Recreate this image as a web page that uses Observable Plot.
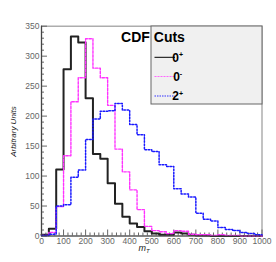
<!DOCTYPE html>
<html><head><meta charset="utf-8">
<script src="https://cdn.jsdelivr.net/npm/d3@7"></script>
<script src="https://cdn.jsdelivr.net/npm/@observablehq/plot@0.6"></script>
<style>body{margin:0;background:#fff}svg{display:block}</style>
</head><body><div id="chart"></div>
<script>
// Histogram: 30 bins over m_T in [0, 1000]
const xMin = 0, xMax = 1000;
const hist0plus  = [2, 12, 111, 278, 333, 323, 230, 137, 129, 88, 54, 32, 21, 15, 8, 4, 2, 2, 6, 4, 2, 1, 1, 0, 0, 0, 0, 0, 0, 0];
const hist0minus = [1, 6, 49, 134, 224, 264, 329, 280, 264, 218, 145, 107, 77, 44, 16, 9, 7, 4, 9, 8, 3, 2, 2, 1, 2, 1, 1, 0, 0, 0];
const hist2plus  = [1, 3, 50, 52, 98, 110, 161, 195, 208, 209, 221, 210, 186, 169, 144, 141, 119, 116, 79, 70, 65, 38, 28, 25, 14, 11, 9, 6, 4, 2];
const seriesLabels = ["0", "0", "2"];
const seriesSups = ["+", "-", "+"];
const legendTitle = "CDF Cuts";
const xTicks = [0, 100, 200, 300, 400, 500, 600, 700, 800, 900, 1000];
const yTicks = [0, 50, 100, 150, 200, 250, 300, 350];
const xMinorStep = 20, yMinorStep = 10;
const xTitle = "m", xTitleSub = "T";
const yTitle = "Arbitrary Units";

function steps(values) {
  const w = (xMax - xMin) / values.length;
  const pts = values.map((v, i) => ({x: xMin + i * w, y: v}));
  pts.push({x: xMax, y: values[values.length - 1]});
  return pts;
}
const xMinor = d3.range(xMin, xMax + 1e-9, xMinorStep).filter(v => !xTicks.includes(v));
const yMinor = d3.range(0, 350 + 1e-9, yMinorStep).filter(v => !yTicks.includes(v));

const W = 276, H = 262, mL = 41, mR = 14.5, mT = 25.7, mB = 26.5;
const fw = W - mL - mR, fh = H - mT - mB;

const styles = [
  {stroke: "#222", strokeWidth: 2},
  {stroke: "#ff33ff", strokeWidth: 1.4, strokeDasharray: "2.5,1.5"},
  {stroke: "#1a1aff", strokeWidth: 1.5, strokeDasharray: "1.6,1.6"}
];
const hists = [hist0plus, hist0minus, hist2plus];

const plot = Plot.plot({
  width: W, height: H,
  marginLeft: mL, marginRight: mR, marginTop: mT, marginBottom: mB,
  x: {domain: [xMin, xMax], label: null},
  y: {domain: [0, 350], label: null},
  style: {fontFamily: "'Liberation Sans', Arial, sans-serif", fontSize: "8.5px", color: "#666", background: "#fff"},
  marks: [
    Plot.frame({stroke: "#999", strokeWidth: 1.2}),
    Plot.tickY(yMinor, {y: d => d, insetRight: fw - 3, stroke: "#666"}),
    Plot.tickY(yTicks, {y: d => d, insetRight: fw - 6, stroke: "#666"}),
    Plot.tickX(xMinor, {x: d => d, insetTop: fh - 3, stroke: "#666"}),
    Plot.tickX(xTicks, {x: d => d, insetTop: fh - 6, stroke: "#666"}),
    Plot.axisY(yTicks, {tickSize: 0, tickPadding: 2, label: null, fill: "#666", tickFormat: d => String(d)}),
    Plot.axisX(xTicks, {tickSize: 0, tickPadding: 2, label: null, fill: "#666", tickFormat: d => String(d)}),
    ...hists.map((h, i) => Plot.lineY(steps(h), {x: "x", y: "y", curve: "step-after", ...styles[i]})),
    Plot.ruleX([xMin], {stroke: "#444", strokeWidth: 1.2}),
    Plot.ruleY([0], {stroke: "#444", strokeWidth: 1.2})
  ]
});
document.getElementById("chart").append(plot);

const svg = d3.select(plot);
// axis titles
svg.append("text")
  .attr("transform", "translate(16.3,131.5) rotate(-90)")
  .attr("text-anchor", "middle")
  .attr("font-style", "italic").attr("font-size", 8).attr("fill", "#222")
  .attr("font-family", "'Liberation Sans', Arial, sans-serif")
  .text(yTitle);
const xt = svg.append("text")
  .attr("x", 144).attr("y", 251)
  .attr("font-style", "italic").attr("font-size", 9).attr("fill", "#222")
  .attr("font-family", "'Liberation Sans', Arial, sans-serif");
xt.append("tspan").text(xTitle);
xt.append("tspan").attr("font-size", 6).attr("dy", 2.2).text(xTitleSub);

// legend
const lg = svg.append("g").attr("font-family", "'Liberation Sans', Arial, sans-serif");
lg.append("rect").attr("x", 151).attr("y", 26).attr("width", 111).attr("height", 78)
  .attr("fill", "#f0f0f0").attr("stroke", "#666").attr("stroke-width", 1);
lg.append("text").attr("x", 153).attr("y", 41.5).attr("font-weight", "bold").attr("font-size", 14)
  .attr("fill", "#000").text(legendTitle);
const rowY = [57.3, 76.5, 96];
const legStyles = [
  {stroke: "#000", w: 1, dash: null},
  {stroke: "#ff66ff", w: 1, dash: "2,1"},
  {stroke: "#3333ff", w: 1, dash: "1.5,1"}
];
seriesLabels.forEach((lab, i) => {
  const y = rowY[i];
  const ln = lg.append("line").attr("x1", 154.5).attr("x2", 175).attr("y1", y).attr("y2", y)
    .attr("stroke", legStyles[i].stroke).attr("stroke-width", legStyles[i].w);
  if (legStyles[i].dash) ln.attr("stroke-dasharray", legStyles[i].dash);
  const t = lg.append("text").attr("x", 177.7).attr("y", y + 4.4)
    .attr("font-weight", "bold").attr("font-size", 12).attr("fill", "#000");
  t.append("tspan").text(lab);
  t.append("tspan").attr("font-size", 7).attr("dy", -4.5).text(seriesSups[i]);
});
</script>
</body></html>
